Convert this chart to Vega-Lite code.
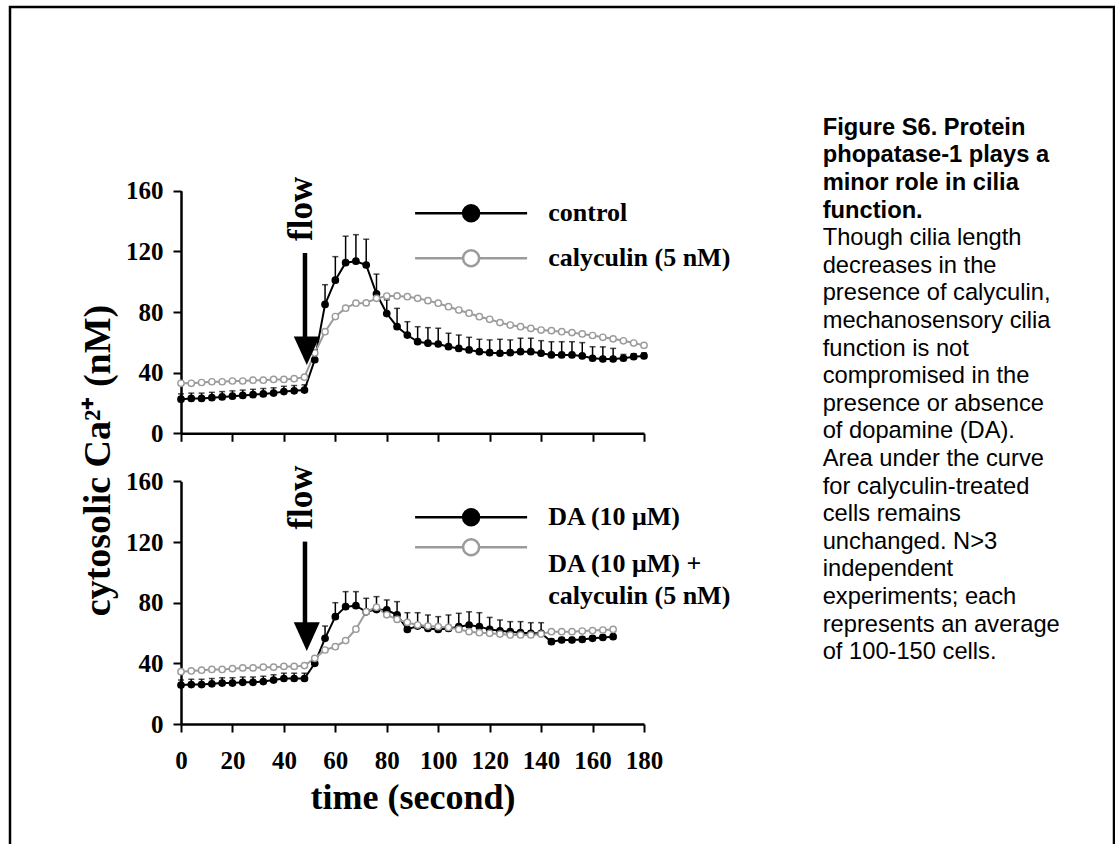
{
  "$schema": "https://vega.github.io/schema/vega-lite/v6.json",
  "width": 1104,
  "height": 847,
  "autosize": {"type": "none"},
  "padding": {"left": 10, "top": 7, "right": 1, "bottom": -10},
  "background": "white",
  "config": {
    "view": {"stroke": "black", "strokeWidth": 2.5},
    "axis": {"grid": false, "domainColor": "black", "domainWidth": 2.5, "tickColor": "black", "tickWidth": 2, "tickSize": 8,
      "labelFont": "Liberation Serif", "labelFontWeight": "bold", "labelFontSize": 25, "labelColor": "black",
      "labelOverlap": false, "labelFlush": false, "labelBound": false,
      "titleFont": "Liberation Serif", "titleFontWeight": "bold", "titleColor": "black"},
    "legend": {"padding": 0, "labelLimit": 500}
  },
  "title": {
    "text": ["Figure S6. Protein", "phopatase-1 plays a", "minor role in cilia", "function."],
    "subtitle": ["Though cilia length", "decreases in the", "presence of calyculin,", "mechanosensory cilia", "function is not", "compromised in the", "presence or absence", "of dopamine (DA).", "Area under the curve", "for calyculin-treated", "cells remains", "unchanged. N>3", "independent", "experiments; each", "represents an average", "of 100-150 cells."],
    "orient": "top", "anchor": "start", "frame": "group", "offset": -657, "dx": 812.7,
    "font": "Liberation Sans", "fontSize": 23.7, "fontWeight": "bold", "color": "black", "lineHeight": 27.6,
    "subtitleFont": "Liberation Sans", "subtitleFontSize": 23.7, "subtitleFontWeight": "normal", "subtitleColor": "black", "subtitleLineHeight": 27.6, "subtitlePadding": 3.9
  },
  "datasets": {
    "top": [
      {"t":0,"v":22.5,"u":26,"s":"control"},{"t":4,"v":23,"u":26.5,"s":"control"},{"t":8,"v":23,"u":26.5,"s":"control"},{"t":12,"v":23.5,"u":27,"s":"control"},{"t":16,"v":24,"u":27.5,"s":"control"},{"t":20,"v":24.5,"u":28,"s":"control"},{"t":24,"v":25,"u":28.5,"s":"control"},{"t":28,"v":25.5,"u":29,"s":"control"},{"t":32,"v":26,"u":29.5,"s":"control"},{"t":36,"v":26.5,"u":30,"s":"control"},{"t":40,"v":27.5,"u":31,"s":"control"},{"t":44,"v":28,"u":31.5,"s":"control"},{"t":48,"v":28.5,"u":32,"s":"control"},{"t":52,"v":48.5,"u":55,"s":"control"},{"t":56,"v":85,"u":98,"s":"control"},{"t":60,"v":101,"u":116.5,"s":"control"},{"t":64,"v":112.5,"u":130,"s":"control"},{"t":68,"v":113.5,"u":131,"s":"control"},{"t":72,"v":111,"u":128,"s":"control"},{"t":76,"v":92,"u":105,"s":"control"},{"t":80,"v":79,"u":88,"s":"control"},{"t":84,"v":70.3,"u":82.4,"s":"control"},{"t":88,"v":64.8,"u":73.6,"s":"control"},{"t":92,"v":60.4,"u":70.3,"s":"control"},{"t":96,"v":59.4,"u":69.7,"s":"control"},{"t":100,"v":58.9,"u":69.3,"s":"control"},{"t":104,"v":57.1,"u":66,"s":"control"},{"t":108,"v":56,"u":64.8,"s":"control"},{"t":112,"v":55,"u":63.3,"s":"control"},{"t":116,"v":53.8,"u":62,"s":"control"},{"t":120,"v":53.2,"u":61.6,"s":"control"},{"t":124,"v":52.8,"u":62,"s":"control"},{"t":128,"v":53.2,"u":61.6,"s":"control"},{"t":132,"v":53.8,"u":62.7,"s":"control"},{"t":136,"v":53.8,"u":62.7,"s":"control"},{"t":140,"v":52.8,"u":61.1,"s":"control"},{"t":144,"v":51.7,"u":60.4,"s":"control"},{"t":148,"v":51.7,"u":60.4,"s":"control"},{"t":152,"v":51.7,"u":60.4,"s":"control"},{"t":156,"v":51,"u":59.8,"s":"control"},{"t":160,"v":49.5,"u":57.1,"s":"control"},{"t":164,"v":49,"u":57,"s":"control"},{"t":168,"v":49,"u":56,"s":"control"},{"t":172,"v":49.5,"u":52,"s":"control"},{"t":176,"v":50.5,"u":52.5,"s":"control"},{"t":180,"v":51,"u":53,"s":"control"},
      {"t":0,"v":33,"s":"calyculin (5 nM)"},{"t":4,"v":33,"s":"calyculin (5 nM)"},{"t":8,"v":33.5,"s":"calyculin (5 nM)"},{"t":12,"v":34,"s":"calyculin (5 nM)"},{"t":16,"v":34,"s":"calyculin (5 nM)"},{"t":20,"v":34.5,"s":"calyculin (5 nM)"},{"t":24,"v":34.5,"s":"calyculin (5 nM)"},{"t":28,"v":35,"s":"calyculin (5 nM)"},{"t":32,"v":35,"s":"calyculin (5 nM)"},{"t":36,"v":35.5,"s":"calyculin (5 nM)"},{"t":40,"v":35.5,"s":"calyculin (5 nM)"},{"t":44,"v":36,"s":"calyculin (5 nM)"},{"t":48,"v":37,"s":"calyculin (5 nM)"},{"t":52,"v":53,"s":"calyculin (5 nM)"},{"t":56,"v":67,"s":"calyculin (5 nM)"},{"t":60,"v":77,"s":"calyculin (5 nM)"},{"t":64,"v":82.5,"s":"calyculin (5 nM)"},{"t":68,"v":85.8,"s":"calyculin (5 nM)"},{"t":72,"v":86,"s":"calyculin (5 nM)"},{"t":76,"v":89,"s":"calyculin (5 nM)"},{"t":80,"v":90.5,"s":"calyculin (5 nM)"},{"t":84,"v":90.6,"s":"calyculin (5 nM)"},{"t":88,"v":90.1,"s":"calyculin (5 nM)"},{"t":92,"v":89,"s":"calyculin (5 nM)"},{"t":96,"v":87.5,"s":"calyculin (5 nM)"},{"t":100,"v":85.8,"s":"calyculin (5 nM)"},{"t":104,"v":83.5,"s":"calyculin (5 nM)"},{"t":108,"v":81.3,"s":"calyculin (5 nM)"},{"t":112,"v":79.2,"s":"calyculin (5 nM)"},{"t":116,"v":76.9,"s":"calyculin (5 nM)"},{"t":120,"v":75.2,"s":"calyculin (5 nM)"},{"t":124,"v":73,"s":"calyculin (5 nM)"},{"t":128,"v":71.4,"s":"calyculin (5 nM)"},{"t":132,"v":70.3,"s":"calyculin (5 nM)"},{"t":136,"v":69.2,"s":"calyculin (5 nM)"},{"t":140,"v":68.1,"s":"calyculin (5 nM)"},{"t":144,"v":67.7,"s":"calyculin (5 nM)"},{"t":148,"v":67,"s":"calyculin (5 nM)"},{"t":152,"v":66.4,"s":"calyculin (5 nM)"},{"t":156,"v":65.5,"s":"calyculin (5 nM)"},{"t":160,"v":64.5,"s":"calyculin (5 nM)"},{"t":164,"v":63.3,"s":"calyculin (5 nM)"},{"t":168,"v":62.3,"s":"calyculin (5 nM)"},{"t":172,"v":61,"s":"calyculin (5 nM)"},{"t":176,"v":59.5,"s":"calyculin (5 nM)"},{"t":180,"v":58,"s":"calyculin (5 nM)"}
    ],
    "bot": [
      {"t":0,"v":25.7,"u":29,"s":"DA (10 μM)"},{"t":4,"v":26,"u":29.5,"s":"DA (10 μM)"},{"t":8,"v":26,"u":29.5,"s":"DA (10 μM)"},{"t":12,"v":26.5,"u":30,"s":"DA (10 μM)"},{"t":16,"v":27,"u":30.5,"s":"DA (10 μM)"},{"t":20,"v":27,"u":30.5,"s":"DA (10 μM)"},{"t":24,"v":27.5,"u":31,"s":"DA (10 μM)"},{"t":28,"v":27.5,"u":31,"s":"DA (10 μM)"},{"t":32,"v":28,"u":31.5,"s":"DA (10 μM)"},{"t":36,"v":29,"u":32.5,"s":"DA (10 μM)"},{"t":40,"v":30,"u":33.5,"s":"DA (10 μM)"},{"t":44,"v":30,"u":33.5,"s":"DA (10 μM)"},{"t":48,"v":30,"u":33.5,"s":"DA (10 μM)"},{"t":52,"v":40,"u":43,"s":"DA (10 μM)"},{"t":56,"v":56.5,"u":64.6,"s":"DA (10 μM)"},{"t":60,"v":70.8,"u":80,"s":"DA (10 μM)"},{"t":64,"v":77.4,"u":87.3,"s":"DA (10 μM)"},{"t":68,"v":78,"u":87.3,"s":"DA (10 μM)"},{"t":72,"v":74,"u":82.9,"s":"DA (10 μM)"},{"t":76,"v":75.5,"u":84,"s":"DA (10 μM)"},{"t":80,"v":75.2,"u":81.8,"s":"DA (10 μM)"},{"t":84,"v":72,"u":80.7,"s":"DA (10 μM)"},{"t":88,"v":62.4,"u":73.4,"s":"DA (10 μM)"},{"t":92,"v":64.6,"u":73.4,"s":"DA (10 μM)"},{"t":96,"v":63,"u":71.9,"s":"DA (10 μM)"},{"t":100,"v":62.4,"u":70.8,"s":"DA (10 μM)"},{"t":104,"v":63,"u":71.9,"s":"DA (10 μM)"},{"t":108,"v":64.2,"u":73,"s":"DA (10 μM)"},{"t":112,"v":65.3,"u":74,"s":"DA (10 μM)"},{"t":116,"v":64.2,"u":73.4,"s":"DA (10 μM)"},{"t":120,"v":62.4,"u":70.3,"s":"DA (10 μM)"},{"t":124,"v":61.5,"u":68.6,"s":"DA (10 μM)"},{"t":128,"v":60.9,"u":67.5,"s":"DA (10 μM)"},{"t":132,"v":60.2,"u":67.5,"s":"DA (10 μM)"},{"t":136,"v":59.8,"u":66.8,"s":"DA (10 μM)"},{"t":140,"v":59.8,"u":66.8,"s":"DA (10 μM)"},{"t":144,"v":54.3,"u":56,"s":"DA (10 μM)"},{"t":148,"v":55.4,"u":57,"s":"DA (10 μM)"},{"t":152,"v":55.4,"u":57,"s":"DA (10 μM)"},{"t":156,"v":55.8,"u":57.5,"s":"DA (10 μM)"},{"t":160,"v":56.5,"u":58,"s":"DA (10 μM)"},{"t":164,"v":57.1,"u":58.5,"s":"DA (10 μM)"},{"t":168,"v":57.6,"u":59,"s":"DA (10 μM)"},
      {"t":0,"v":34.5,"s":"DA (10 μM) + calyculin (5 nM)"},{"t":4,"v":35,"s":"DA (10 μM) + calyculin (5 nM)"},{"t":8,"v":35.5,"s":"DA (10 μM) + calyculin (5 nM)"},{"t":12,"v":36,"s":"DA (10 μM) + calyculin (5 nM)"},{"t":16,"v":36,"s":"DA (10 μM) + calyculin (5 nM)"},{"t":20,"v":36.5,"s":"DA (10 μM) + calyculin (5 nM)"},{"t":24,"v":37,"s":"DA (10 μM) + calyculin (5 nM)"},{"t":28,"v":37,"s":"DA (10 μM) + calyculin (5 nM)"},{"t":32,"v":37.5,"s":"DA (10 μM) + calyculin (5 nM)"},{"t":36,"v":37.5,"s":"DA (10 μM) + calyculin (5 nM)"},{"t":40,"v":38,"s":"DA (10 μM) + calyculin (5 nM)"},{"t":44,"v":38,"s":"DA (10 μM) + calyculin (5 nM)"},{"t":48,"v":38.5,"s":"DA (10 μM) + calyculin (5 nM)"},{"t":52,"v":43.3,"s":"DA (10 μM) + calyculin (5 nM)"},{"t":56,"v":48.8,"s":"DA (10 μM) + calyculin (5 nM)"},{"t":60,"v":51,"s":"DA (10 μM) + calyculin (5 nM)"},{"t":64,"v":55,"s":"DA (10 μM) + calyculin (5 nM)"},{"t":68,"v":62.5,"s":"DA (10 μM) + calyculin (5 nM)"},{"t":72,"v":74,"s":"DA (10 μM) + calyculin (5 nM)"},{"t":76,"v":77,"s":"DA (10 μM) + calyculin (5 nM)"},{"t":80,"v":72,"s":"DA (10 μM) + calyculin (5 nM)"},{"t":84,"v":69,"s":"DA (10 μM) + calyculin (5 nM)"},{"t":88,"v":67,"s":"DA (10 μM) + calyculin (5 nM)"},{"t":92,"v":65.3,"s":"DA (10 μM) + calyculin (5 nM)"},{"t":96,"v":64.6,"s":"DA (10 μM) + calyculin (5 nM)"},{"t":100,"v":64.2,"s":"DA (10 μM) + calyculin (5 nM)"},{"t":104,"v":63.7,"s":"DA (10 μM) + calyculin (5 nM)"},{"t":108,"v":62.4,"s":"DA (10 μM) + calyculin (5 nM)"},{"t":112,"v":60.9,"s":"DA (10 μM) + calyculin (5 nM)"},{"t":116,"v":60.2,"s":"DA (10 μM) + calyculin (5 nM)"},{"t":120,"v":59.8,"s":"DA (10 μM) + calyculin (5 nM)"},{"t":124,"v":59.3,"s":"DA (10 μM) + calyculin (5 nM)"},{"t":128,"v":58.7,"s":"DA (10 μM) + calyculin (5 nM)"},{"t":132,"v":58.7,"s":"DA (10 μM) + calyculin (5 nM)"},{"t":136,"v":58.7,"s":"DA (10 μM) + calyculin (5 nM)"},{"t":140,"v":59.3,"s":"DA (10 μM) + calyculin (5 nM)"},{"t":144,"v":60.9,"s":"DA (10 μM) + calyculin (5 nM)"},{"t":148,"v":60.9,"s":"DA (10 μM) + calyculin (5 nM)"},{"t":152,"v":60.9,"s":"DA (10 μM) + calyculin (5 nM)"},{"t":156,"v":61.3,"s":"DA (10 μM) + calyculin (5 nM)"},{"t":160,"v":61.6,"s":"DA (10 μM) + calyculin (5 nM)"},{"t":164,"v":62,"s":"DA (10 μM) + calyculin (5 nM)"},{"t":168,"v":62.4,"s":"DA (10 μM) + calyculin (5 nM)"}
    ],
    "topAnn": [
      {"k":"shaft","t":48.2,"v":118.9,"v2":60},
      {"k":"head","t":48.9,"v":54.4},
      {"k":"text","t":46.7,"v":148,"label":"flow"}
    ],
    "botAnn": [
      {"k":"shaft","t":48.2,"v":120.3,"v2":63},
      {"k":"head","t":48.9,"v":57.6},
      {"k":"text","t":46.7,"v":149.4,"label":"flow"}
    ]
  },
  "layer": [
    {
      "data": {"name": "top"},
      "layer": [
        {
          "mark": {"type": "line", "strokeWidth": 2},
          "encoding": {
            "x": {"field": "t", "type": "quantitative", "scale": {"domain": [0, 180], "range": [171, 634], "nice": false, "zero": false},
              "axis": {"orient": "bottom", "offset": -420.7, "values": [0,20,40,60,80,100,120,140,160,180], "labels": false, "title": null}},
            "y": {"field": "v", "type": "quantitative", "scale": {"domain": [0, 160], "range": [426.3, 183.7], "nice": false},
              "axis": {"orient": "left", "offset": -171, "values": [0,40,80,120,160], "labelPadding": 10,
                "title": "cytosolic Ca²⁺ (nM)", "titleFontSize": 38, "titleAngle": 270, "titleX": -83, "titleY": 453, "titleAlign": "center", "titleBaseline": "middle"}},
            "stroke": {"field": "s", "type": "nominal", "scale": {"domain": ["control", "calyculin (5 nM)"], "range": ["#000000", "#9b9b9b"]},
              "legend": {"orient": "none", "legendX": 448.1, "legendY": 193.3, "title": null,
                "symbolType": "M-7,0L-1,0M1,0L7,0M-1,0A1,1,0,1,1,1,0A1,1,0,1,1,-1,0Z", "symbolSize": 256, "symbolStrokeWidth": 2.5,
                "labelFont": "Liberation Serif", "labelFontWeight": "bold", "labelFontSize": 26, "labelColor": "black", "labelOffset": 64.2, "rowPadding": 19,
                "encode": {"symbols": {"update": {"fill": {"signal": "datum.index == 0 ? '#000000' : '#ffffff'"}, "opacity": {"value": 1}}}}}}
          }
        },
        {
          "transform": [{"filter": "datum.u != null"}],
          "mark": {"type": "rule", "color": "black", "strokeWidth": 1.5},
          "encoding": {"x": {"field": "t", "type": "quantitative"}, "y": {"field": "v", "type": "quantitative"}, "y2": {"field": "u"}}
        },
        {
          "transform": [{"filter": "datum.u != null"}],
          "mark": {"type": "tick", "orient": "horizontal", "color": "black", "size": 6, "thickness": 1.5},
          "encoding": {"x": {"field": "t", "type": "quantitative"}, "y": {"field": "u", "type": "quantitative"}}
        },
        {
          "mark": {"type": "point", "shape": "circle", "size": 40, "strokeWidth": 1.4, "opacity": 1},
          "encoding": {
            "x": {"field": "t", "type": "quantitative"},
            "y": {"field": "v", "type": "quantitative"},
            "stroke": {"field": "s", "type": "nominal"},
            "fill": {"field": "s", "type": "nominal", "scale": {"domain": ["control", "calyculin (5 nM)"], "range": ["#000000", "#ffffff"]}, "legend": null}
          }
        },
        {
          "data": {"name": "topAnn"},
          "transform": [{"filter": "datum.k == 'shaft'"}],
          "mark": {"type": "rule", "color": "black", "strokeWidth": 4.5},
          "encoding": {"x": {"field": "t", "type": "quantitative"}, "y": {"field": "v", "type": "quantitative"}, "y2": {"field": "v2"}}
        },
        {
          "data": {"name": "topAnn"},
          "transform": [{"filter": "datum.k == 'head'"}],
          "mark": {"type": "point", "shape": "M-1,-1.1L1,-1.1L0,1.1Z", "size": 676, "filled": true, "color": "black", "opacity": 1},
          "encoding": {"x": {"field": "t", "type": "quantitative"}, "y": {"field": "v", "type": "quantitative"}}
        },
        {
          "data": {"name": "topAnn"},
          "transform": [{"filter": "datum.k == 'text'"}],
          "mark": {"type": "text", "angle": 270, "font": "Liberation Serif", "fontWeight": "bold", "fontSize": 35, "align": "center", "baseline": "middle", "color": "black"},
          "encoding": {"x": {"field": "t", "type": "quantitative"}, "y": {"field": "v", "type": "quantitative"}, "text": {"field": "label"}}
        }
      ]
    },
    {
      "data": {"name": "bot"},
      "layer": [
        {
          "mark": {"type": "line", "strokeWidth": 2},
          "encoding": {
            "x": {"field": "t", "type": "quantitative", "scale": {"domain": [0, 180], "range": [171, 634], "nice": false, "zero": false},
              "axis": {"orient": "bottom", "offset": -130, "values": [0,20,40,60,80,100,120,140,160,180], "labelPadding": 16,
                "title": "time (second)", "titleFontSize": 36, "titleY": 84, "titleBaseline": "alphabetic"}},
            "y": {"field": "v", "type": "quantitative", "scale": {"domain": [0, 160], "range": [717, 474.4], "nice": false},
              "axis": {"orient": "left", "offset": -171, "values": [0,40,80,120,160], "labelPadding": 10, "title": null}},
            "stroke": {"field": "s", "type": "nominal", "scale": {"domain": ["DA (10 μM)", "DA (10 μM) + calyculin (5 nM)"], "range": ["#000000", "#9b9b9b"]},
              "legend": {"orient": "none", "legendX": 448.1, "legendY": 497.3, "title": null,
                "symbolType": "M-7,0L-1,0M1,0L7,0M-1,0A1,1,0,1,1,1,0A1,1,0,1,1,-1,0Z", "symbolSize": 256, "symbolStrokeWidth": 2.5,
                "labelFont": "Liberation Serif", "labelFontWeight": "bold", "labelFontSize": 26, "labelColor": "black", "labelOffset": 64.2, "rowPadding": 4,
                "labelExpr": "indexof(datum.label, ' + ') > 0 ? ['DA (10 μM) +', 'calyculin (5 nM)'] : datum.label",
                "encode": {
                  "symbols": {"update": {"fill": {"signal": "datum.index == 0 ? '#000000' : '#ffffff'"}, "opacity": {"value": 1}}},
                  "labels": {"update": {"lineHeight": {"value": 32.6}, "dy": {"signal": "datum.index == 1 ? 16.3 : 0"}}}
                }}}
          }
        },
        {
          "transform": [{"filter": "datum.u != null"}],
          "mark": {"type": "rule", "color": "black", "strokeWidth": 1.5},
          "encoding": {"x": {"field": "t", "type": "quantitative"}, "y": {"field": "v", "type": "quantitative"}, "y2": {"field": "u"}}
        },
        {
          "transform": [{"filter": "datum.u != null"}],
          "mark": {"type": "tick", "orient": "horizontal", "color": "black", "size": 6, "thickness": 1.5},
          "encoding": {"x": {"field": "t", "type": "quantitative"}, "y": {"field": "u", "type": "quantitative"}}
        },
        {
          "mark": {"type": "point", "shape": "circle", "size": 40, "strokeWidth": 1.4, "opacity": 1},
          "encoding": {
            "x": {"field": "t", "type": "quantitative"},
            "y": {"field": "v", "type": "quantitative"},
            "stroke": {"field": "s", "type": "nominal"},
            "fill": {"field": "s", "type": "nominal", "scale": {"domain": ["DA (10 μM)", "DA (10 μM) + calyculin (5 nM)"], "range": ["#000000", "#ffffff"]}, "legend": null}
          }
        },
        {
          "data": {"name": "botAnn"},
          "transform": [{"filter": "datum.k == 'shaft'"}],
          "mark": {"type": "rule", "color": "black", "strokeWidth": 4.5},
          "encoding": {"x": {"field": "t", "type": "quantitative"}, "y": {"field": "v", "type": "quantitative"}, "y2": {"field": "v2"}}
        },
        {
          "data": {"name": "botAnn"},
          "transform": [{"filter": "datum.k == 'head'"}],
          "mark": {"type": "point", "shape": "M-1,-1.1L1,-1.1L0,1.1Z", "size": 676, "filled": true, "color": "black", "opacity": 1},
          "encoding": {"x": {"field": "t", "type": "quantitative"}, "y": {"field": "v", "type": "quantitative"}}
        },
        {
          "data": {"name": "botAnn"},
          "transform": [{"filter": "datum.k == 'text'"}],
          "mark": {"type": "text", "angle": 270, "font": "Liberation Serif", "fontWeight": "bold", "fontSize": 35, "align": "center", "baseline": "middle", "color": "black"},
          "encoding": {"x": {"field": "t", "type": "quantitative"}, "y": {"field": "v", "type": "quantitative"}, "text": {"field": "label"}}
        }
      ]
    }
  ],
  "resolve": {
    "scale": {"x": "independent", "y": "independent", "stroke": "independent", "fill": "independent"},
    "axis": {"x": "independent", "y": "independent"},
    "legend": {"stroke": "independent"}
  }
}
